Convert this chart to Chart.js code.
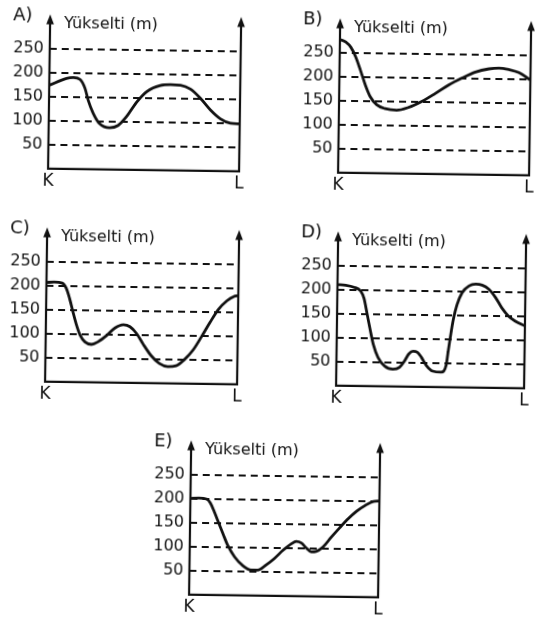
<!DOCTYPE html>
<html lang="tr">
<head>
<meta charset="utf-8">
<title>Yükselti profilleri</title>
<script src="https://cdn.jsdelivr.net/npm/chart.js@4.4.1/dist/chart.umd.min.js"></script>
<style>
  html, body { margin: 0; padding: 0; background: #fff; }
  body { width: 535px; height: 620px; position: relative; overflow: hidden; }
  .panel { position: absolute; width: 270px; height: 205px; transform: rotate(0.8deg); }
  .panel canvas { display: block; }
</style>
</head>
<body>
<div class="panel" id="panelA"><canvas id="chartA" width="270" height="205"></canvas></div>
<div class="panel" id="panelB"><canvas id="chartB" width="270" height="205"></canvas></div>
<div class="panel" id="panelC"><canvas id="chartC" width="270" height="205"></canvas></div>
<div class="panel" id="panelD"><canvas id="chartD" width="270" height="205"></canvas></div>
<div class="panel" id="panelE"><canvas id="chartE" width="270" height="205"></canvas></div>

<script>
// ---- data ----
const panelLetters = ['A)', 'B)', 'C)', 'D)', 'E)'];
const axisTitle = 'Yükselti (m)';
const endLabels = ['K', 'L'];
const heightTicks = [50, 100, 150, 200, 250];

// distance along the K-L line (0 = K, 1 = L) and elevation in metres
const distA = [0, 0.09, 0.126, 0.161, 0.188, 0.205, 0.232, 0.267, 0.319, 0.363, 0.407, 0.46, 0.512, 0.582, 0.635, 0.688, 0.74, 0.793, 0.846, 0.898, 0.951, 1];
const elevA = [174, 189, 191, 187, 168, 144, 117, 95, 87, 92, 111, 142, 164, 177, 179, 178, 170, 151, 127, 109, 100, 99];

const distB = [0, 0.031, 0.058, 0.084, 0.11, 0.136, 0.162, 0.197, 0.241, 0.302, 0.363, 0.433, 0.503, 0.572, 0.642, 0.712, 0.782, 0.834, 0.887, 0.939, 1];
const elevB = [278, 273, 262, 242, 214, 184, 160, 143, 135, 132, 138, 151, 168, 186, 201, 214, 221, 223, 220, 214, 199];

const distC = [0, 0.04, 0.083, 0.104, 0.121, 0.139, 0.158, 0.179, 0.205, 0.239, 0.274, 0.317, 0.36, 0.404, 0.438, 0.473, 0.508, 0.551, 0.594, 0.638, 0.681, 0.724, 0.768, 0.811, 0.854, 0.898, 0.941, 0.976, 1];
const elevC = [207, 208, 206, 195, 175, 148, 121, 98, 84, 79, 85, 98, 114, 121, 117, 103, 81, 57, 41, 35, 37, 50, 70, 98, 128, 156, 174, 183, 185];

const distD = [0, 0.044, 0.088, 0.124, 0.142, 0.159, 0.177, 0.195, 0.221, 0.257, 0.301, 0.336, 0.363, 0.384, 0.407, 0.43, 0.451, 0.478, 0.513, 0.558, 0.584, 0.593, 0.605, 0.619, 0.637, 0.664, 0.699, 0.735, 0.77, 0.805, 0.841, 0.876, 0.912, 0.947, 1];
const elevD = [211, 210, 206, 198, 183, 152, 118, 87, 60, 42, 36, 40, 54, 68, 74, 72, 62, 45, 33, 31, 46, 73, 107, 142, 172, 198, 212, 216, 214, 206, 189, 167, 150, 140, 130];

const distE = [0, 0.044, 0.085, 0.106, 0.127, 0.15, 0.176, 0.202, 0.238, 0.282, 0.326, 0.361, 0.405, 0.449, 0.493, 0.537, 0.563, 0.59, 0.616, 0.643, 0.669, 0.704, 0.748, 0.792, 0.836, 0.88, 0.924, 0.968, 1];
const elevE = [201, 202, 200, 192, 174, 152, 127, 103, 80, 62, 53, 53, 64, 78, 95, 109, 114, 111, 101, 93, 94, 103, 124, 144, 163, 179, 191, 200, 201];

// ---- layout of the five panels ----
const INK = '#111';
const FONT = "'DejaVu Sans', sans-serif";
const Y_MAX = 320;          // top of the arrowed axes
const PX_PER_M = 0.49;
const AXIS_W = 45;          // room for the tick labels
const PAD_LEFT = 4;
const PAD_TOP = 12;

const panels = [
  { id: 'A', dist: distA, elev: elevA, left: 0,   top: 1,   width: 191 },
  { id: 'B', dist: distB, elev: elevB, left: 290, top: 5,   width: 191 },
  { id: 'C', dist: distC, elev: elevC, left: -3,  top: 214, width: 192 },
  { id: 'D', dist: distD, elev: elevD, left: 288, top: 218, width: 188 },
  { id: 'E', dist: distE, elev: elevE, left: 141, top: 427, width: 189 }
];

// axes with arrow heads, axis title, panel letter and K / L marks
const profileDecor = {
  id: 'profileDecor',
  afterDraw(chart, args, opts) {
    const { ctx, chartArea: a } = chart;
    const y0 = chart.scales.y.getPixelForValue(0);
    ctx.save();
    ctx.strokeStyle = INK;
    ctx.fillStyle = INK;
    ctx.lineWidth = 2.2;
    ctx.lineCap = 'square';

    ctx.beginPath();
    ctx.moveTo(a.left, y0);
    ctx.lineTo(a.left, a.top + 6);
    ctx.moveTo(a.right, y0);
    ctx.lineTo(a.right, a.top + 6);
    ctx.moveTo(a.left, y0);
    ctx.lineTo(a.right, y0);
    ctx.stroke();

    [a.left, a.right].forEach(x => {
      ctx.beginPath();
      ctx.moveTo(x, a.top - 1);
      ctx.lineTo(x - 3.8, a.top + 9);
      ctx.lineTo(x + 3.8, a.top + 9);
      ctx.closePath();
      ctx.fill();
    });

    ctx.textBaseline = 'middle';
    ctx.textAlign = 'left';
    ctx.font = '16px ' + FONT;
    ctx.fillText(axisTitle, a.left + 14, a.top + 8.5);

    ctx.font = '18px ' + FONT;
    ctx.fillText(opts.letter, a.left - 37, a.top + 1);

    ctx.textAlign = 'center';
    ctx.font = '17px ' + FONT;
    ctx.fillText(endLabels[0], a.left, y0 + 13);
    ctx.fillText(endLabels[1], a.right, y0 + 13);
    ctx.restore();
  }
};

panels.forEach((p, i) => {
  const box = document.getElementById('panel' + p.id);
  box.style.left = p.left + 'px';
  box.style.top = p.top + 'px';

  const canvas = document.getElementById('chart' + p.id);
  const areaBottom = PAD_TOP + Y_MAX * PX_PER_M;

  new Chart(canvas.getContext('2d'), {
    type: 'line',
    data: {
      datasets: [{
        data: p.dist.map((d, k) => ({ x: d, y: p.elev[k] })),
        borderColor: INK,
        borderWidth: 2.8,
        pointRadius: 0,
        cubicInterpolationMode: 'monotone',
        fill: false
      }]
    },
    options: {
      responsive: false,
      animation: false,
      events: [],
      layout: {
        padding: {
          left: PAD_LEFT,
          right: canvas.width - PAD_LEFT - AXIS_W - p.width,
          top: PAD_TOP,
          bottom: canvas.height - areaBottom
        }
      },
      scales: {
        x: { type: 'linear', min: 0, max: 1, display: false },
        y: {
          min: 0,
          max: Y_MAX,
          afterFit: axis => { axis.width = AXIS_W; },
          afterBuildTicks: axis => { axis.ticks = heightTicks.map(v => ({ value: v })); },
          border: { display: false, dash: [7, 5] },
          grid: { color: INK, lineWidth: 2, drawTicks: false },
          ticks: {
            padding: 6,
            color: INK,
            font: { family: FONT, size: 16 }
          }
        }
      },
      plugins: {
        legend: { display: false },
        tooltip: { enabled: false },
        profileDecor: { letter: panelLetters[i] }
      }
    },
    plugins: [profileDecor]
  });
});
</script>
</body>
</html>
